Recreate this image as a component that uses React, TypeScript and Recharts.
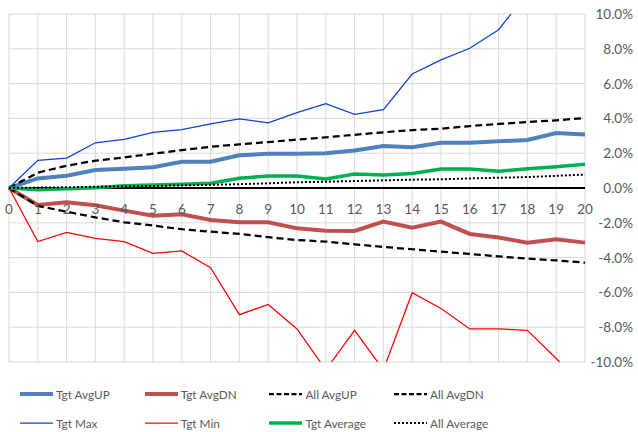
import React from 'react';
import { LineChart, Line, XAxis, YAxis, CartesianGrid, Legend, ReferenceLine } from 'recharts';

const days = [0, 1, 2, 3, 4, 5, 6, 7, 8, 9, 10, 11, 12, 13, 14, 15, 16, 17, 18, 19, 20];
const tgtAvgUp = [0, 0.55, 0.71, 1.03, 1.11, 1.19, 1.51, 1.51, 1.88, 1.97, 1.97, 2.0, 2.15, 2.41, 2.34, 2.6, 2.6, 2.68, 2.76, 3.16, 3.08];
const tgtAvgDn = [0, -0.98, -0.82, -0.99, -1.3, -1.59, -1.51, -1.84, -1.97, -1.97, -2.32, -2.45, -2.47, -1.93, -2.28, -1.93, -2.64, -2.85, -3.14, -2.95, -3.14];
const allAvgUp = [0, 0.88, 1.28, 1.57, 1.76, 1.97, 2.18, 2.37, 2.51, 2.64, 2.78, 2.91, 3.06, 3.2, 3.33, 3.41, 3.56, 3.68, 3.79, 3.89, 4.02];
const allAvgDn = [0, -1.03, -1.36, -1.69, -1.97, -2.16, -2.37, -2.51, -2.64, -2.83, -2.99, -3.08, -3.24, -3.39, -3.52, -3.66, -3.79, -3.93, -4.06, -4.16, -4.29];
const tgtMax = [0, 1.59, 1.72, 2.6, 2.8, 3.2, 3.35, 3.68, 3.97, 3.75, 4.33, 4.85, 4.23, 4.5, 6.55, 7.36, 8.03, 9.1, 11.2, 12.0, 12.5];
const tgtMin = [0, -3.08, -2.55, -2.89, -3.08, -3.75, -3.62, -4.58, -7.28, -6.69, -8.1, -10.45, -8.18, -10.45, -6.02, -6.92, -8.1, -8.1, -8.18, -9.8, -11.5];
const tgtAverage = [0, -0.1, -0.05, 0.02, 0.13, 0.17, 0.21, 0.27, 0.56, 0.69, 0.69, 0.52, 0.8, 0.75, 0.84, 1.09, 1.09, 0.96, 1.11, 1.22, 1.36];
const allAverage = [0, 0.02, 0.04, 0.07, 0.09, 0.12, 0.15, 0.18, 0.22, 0.27, 0.33, 0.36, 0.4, 0.44, 0.48, 0.5, 0.55, 0.59, 0.63, 0.7, 0.77];
const yTicks = [-10, -8, -6, -4, -2, 0, 2, 4, 6, 8, 10];

const data = days.map((d, i) => ({
	day: d,
	tgtAvgUp: tgtAvgUp[i],
	tgtAvgDn: tgtAvgDn[i],
	allAvgUp: allAvgUp[i],
	allAvgDn: allAvgDn[i],
	tgtMax: tgtMax[i],
	tgtMin: tgtMin[i],
	tgtAverage: tgtAverage[i],
	allAverage: allAverage[i],
}));

const FONT = 'Lato, "Open Sans", sans-serif';
const TEXT = '#595959';

// series styles, in legend order (row by row)
const series = [
	{ key: 'tgtAvgUp', name: 'Tgt AvgUP', color: '#4f81bd', width: 4 },
	{ key: 'tgtAvgDn', name: 'Tgt AvgDN', color: '#c0504d', width: 4 },
	{ key: 'allAvgUp', name: 'All AvgUP', color: '#000', width: 2.25, dash: '7 4' },
	{ key: 'allAvgDn', name: 'All AvgDN', color: '#000', width: 2.25, dash: '7 4' },
	{ key: 'tgtMax', name: 'Tgt Max', color: '#0f3fd9', width: 1.25 },
	{ key: 'tgtMin', name: 'Tgt Min', color: '#ff0000', width: 1.25 },
	{ key: 'tgtAverage', name: 'Tgt Average', color: '#00b050', width: 3.5 },
	{ key: 'allAverage', name: 'All Average', color: '#000', width: 2, dash: '2 2' },
];

const XTick = (props: any) => {
	const { x, y, payload } = props;
	// labels sit just under the zero line, not under the plot
	return (
		<text x={x} y={y - 153} textAnchor='middle' dominantBaseline='central' fill={TEXT} fontSize={13.5} fontFamily={FONT}>
			{payload.value}
		</text>
	);
};

const YTick = (props: any) => {
	const { x, y, payload } = props;
	return (
		<text x={x + 48} y={y} textAnchor='end' dominantBaseline='central' fill={TEXT} fontSize={13.5} fontFamily={FONT}>
			{payload.value.toFixed(1) + '%'}
		</text>
	);
};

const LegendBox = () => (
	<div style={{ position: 'relative', width: 638, height: 69, fontFamily: FONT, fontSize: 11.8, color: TEXT }}>
		{series.map((s, i) => {
			const col = i % 4;
			const row = Math.floor(i / 4);
			return (
				<div key={s.key} style={{ position: 'absolute', left: 19 + col * 124.7, top: 21 + row * 29, height: 20, display: 'flex', alignItems: 'center', whiteSpace: 'nowrap' }}>
					<svg width={35} height={8} style={{ marginRight: 2 }}>
						<line x1={1} y1={4} x2={34} y2={4} stroke={s.color} strokeWidth={s.width} strokeDasharray={s.dash ? (s.dash === '2 2' ? '2 2' : '5 2.5') : undefined} />
					</svg>
					<span>{s.name}</span>
				</div>
			);
		})}
	</div>
);

export default function App() {
	return (
		<>
			<style>{'body{margin:0}'}</style>
			<LineChart width={638} height={432} data={data} margin={{ top: 14, right: 0, left: 9, bottom: 0 }}>
				<CartesianGrid stroke='#d9d9d9' strokeWidth={1} />
				<XAxis dataKey='day' type='number' domain={[0, 20]} ticks={days} interval={0} height={1} axisLine={false} tickLine={false} tickSize={0} tickMargin={0} tick={<XTick />} />
				<YAxis orientation='right' width={53} domain={[-10, 10]} ticks={yTicks} allowDataOverflow axisLine={false} tickLine={false} tickSize={0} tickMargin={0} tick={<YTick />} />
				<ReferenceLine y={0} stroke='#000' strokeWidth={2} />
				{series.map((s) => (
					<Line
						key={s.key}
						dataKey={s.key}
						name={s.name}
						type='linear'
						stroke={s.color}
						strokeWidth={s.width}
						strokeDasharray={s.dash}
						dot={false}
						activeDot={false}
						isAnimationActive={false}
					/>
				))}
				<Legend verticalAlign='bottom' align='left' content={<LegendBox />} wrapperStyle={{ left: 0, width: 638, height: 69 }} />
			</LineChart>
		</>
	);
}
